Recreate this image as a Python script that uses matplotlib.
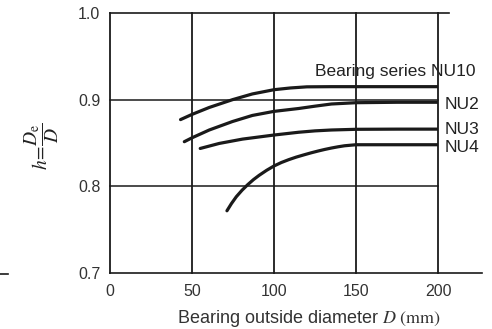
import numpy as np
import matplotlib.pyplot as plt
from matplotlib.lines import Line2D

plt.rcParams['font.family'] = ['Liberation Sans', 'DejaVu Sans']
plt.rcParams['mathtext.fontset'] = 'stix'

# curves: D (mm) -> h
nu10_d = [43, 50, 60.5, 74.7, 86.8, 100, 110, 120, 135, 150, 175, 200]
nu10_h = [0.877, 0.883, 0.891, 0.900, 0.9066, 0.9115, 0.9135, 0.9148, 0.915, 0.915, 0.915, 0.915]
nu2_d = [45.3, 50, 60.5, 74.7, 86.8, 100, 115, 125, 135, 150, 175, 200]
nu2_h = [0.8515, 0.856, 0.865, 0.8748, 0.8818, 0.8865, 0.8898, 0.8925, 0.895, 0.8965, 0.897, 0.897]
nu3_d = [55, 66.6, 80.8, 100, 115, 125, 135, 150, 175, 200]
nu3_h = [0.8437, 0.8495, 0.8545, 0.8592, 0.8624, 0.864, 0.865, 0.8658, 0.866, 0.866]
nu4_d = [71.3, 74, 77, 80.5, 84, 87.5, 91, 95.5, 100, 104.5, 109, 113.5, 118, 122.5,
         127, 131, 135, 139, 143, 150, 175, 200]
nu4_h = [0.7718, 0.7800, 0.7880, 0.7955, 0.8020, 0.8078, 0.8128, 0.8185, 0.8235, 0.8275,
         0.8308, 0.8337, 0.8362, 0.8386, 0.8408, 0.8426, 0.8442, 0.8456, 0.8468, 0.848,
         0.848, 0.848]

series = [("Bearing series NU10", nu10_d, nu10_h),
          ("NU2", nu2_d, nu2_h),
          ("NU3", nu3_d, nu3_h),
          ("NU4", nu4_d, nu4_h)]

xticks = [0, 50, 100, 150, 200]
yticks = [0.7, 0.8, 0.9, 1.0]

fig = plt.figure(figsize=(4.92, 3.29), dpi=100)
ax = fig.add_axes([0.2236, 0.1702, 0.6667, 0.7903])
ax.set_xlim(0, 200)
ax.set_ylim(0.7, 1.0)
for s in ax.spines.values():
    s.set_visible(False)

lc = '#1a1a1a'
# frame and grid, drawn by hand since the borders stick out to the right
for x in xticks:
    ax.plot([x, x], [0.7, 1.0], color=lc, lw=1.3, clip_on=False)
for y in yticks[1:-1]:
    ax.plot([0, 200], [y, y], color=lc, lw=1.1, clip_on=False)
ax.plot([0, 206.5], [1.0, 1.0], color=lc, lw=1.2, clip_on=False)
ax.plot([0, 227], [0.7, 0.7], color=lc, lw=1.2, clip_on=False)

for name, d, h in series:
    ax.plot(d, h, color=lc, lw=2.3, solid_capstyle='round')

tc = '#222222'
ax.text(125, 0.933, series[0][0], fontsize=12.5, color=tc, va='center', ha='left')
label_y = [0.894, 0.865, 0.845]
for (name, d, h), ly in zip(series[1:], label_y):
    ax.text(204, ly, name, fontsize=12.5, color=tc, va='center', ha='left')

ax.set_xticks(xticks)
ax.set_yticks(yticks)
ax.set_xticklabels([str(x) for x in xticks])
ax.set_yticklabels(["%.1f" % y for y in yticks])
ax.tick_params(length=0, labelsize=11.5, labelcolor='#333333')
ax.tick_params(axis='x', pad=8)
ax.tick_params(axis='y', pad=7)

ax.set_xlabel(r"Bearing outside diameter $D\ \mathrm{(mm)}$", fontsize=13, color='#333333')
ax.xaxis.set_label_coords(0.605, -0.175)
ax.xaxis.label.set_va('center')
ax.set_ylabel(r"$h\!=\!\dfrac{D_{\rm e}}{D}$", fontsize=14, color=tc, rotation=90)
ax.yaxis.set_label_coords(-0.21, 0.485)
ax.yaxis.label.set_va('center')

fig.add_artist(Line2D([0.0, 0.017], [0.167, 0.167], color=lc, lw=1.2))

fig.savefig("out.png", dpi=100)
